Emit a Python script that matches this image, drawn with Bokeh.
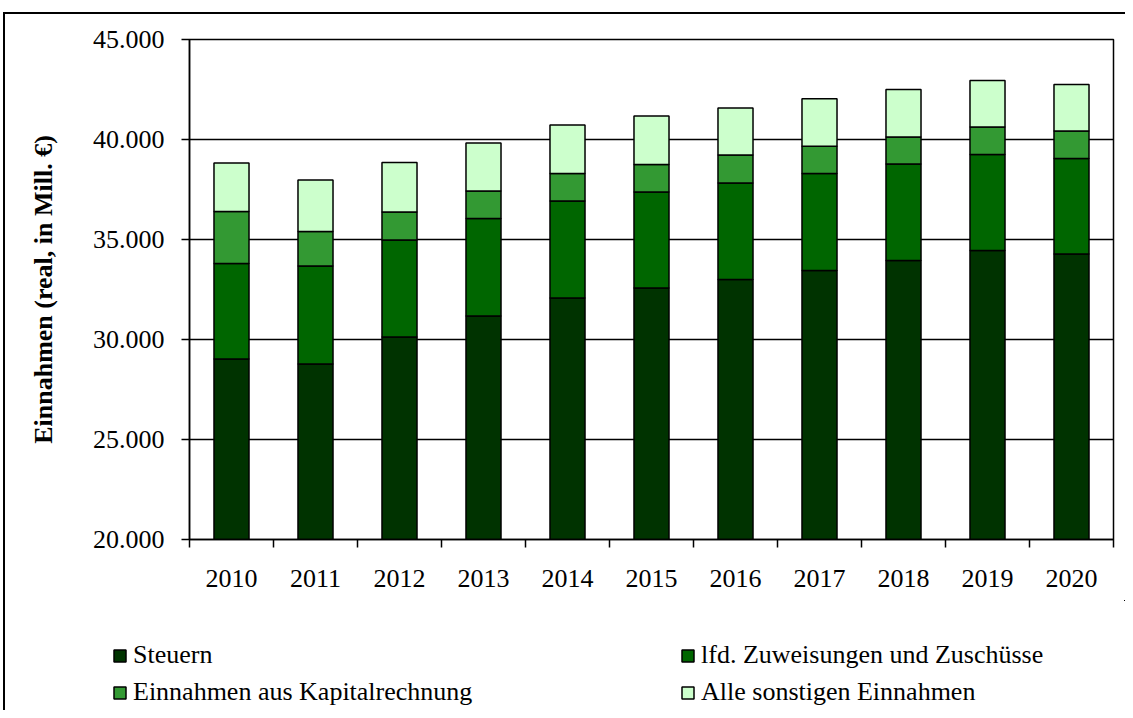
from bokeh.plotting import figure
from bokeh.models import (Range1d, FixedTicker, CustomJSTickFormatter, Legend, LegendItem,
                          ColumnDataSource)
from bokeh.embed import file_html
from bokeh.resources import INLINE

years = ["2010", "2011", "2012", "2013", "2014", "2015", "2016", "2017", "2018", "2019", "2020"]
steuern = [29020, 28770, 30120, 31180, 32070, 32570, 33000, 33450, 33950, 34450, 34280]
zuweisungen = [4780, 4900, 4850, 4870, 4850, 4810, 4830, 4850, 4820, 4800, 4770]
kapital = [2600, 1730, 1400, 1380, 1380, 1370, 1390, 1360, 1360, 1370, 1370]
sonstige = [2430, 2580, 2480, 2400, 2430, 2420, 2360, 2380, 2370, 2330, 2330]

series = ["steuern", "zuweisungen", "kapital", "sonstige"]
labels = ["Steuern", "lfd. Zuweisungen und Zuschüsse",
          "Einnahmen aus Kapitalrechnung", "Alle sonstigen Einnahmen"]
colors = ["#003300", "#006600", "#339933", "#CCFFCC"]

x = [i + 0.5 for i in range(len(years))]
source = ColumnDataSource(dict(x=x, steuern=steuern, zuweisungen=zuweisungen,
                               kapital=kapital, sonstige=sonstige))

FONT = "Liberation Serif"

p = figure(width=1125, height=600, output_backend="svg", toolbar_location=None,
           x_range=Range1d(0, len(years)), y_range=Range1d(20000, 45000),
           min_border_left=189, min_border_right=12, min_border_top=39, min_border_bottom=61)
p.background_fill_color = "white"
p.border_fill_color = "white"
p.outline_line_color = "black"
p.outline_line_width = 1.5

renderers = p.vbar_stack(series, x="x", width=0.417, source=source, color=colors,
                         line_color="black", line_width=1.5)

# axes
p.xgrid.visible = False
p.ygrid.grid_line_color = "black"
p.ygrid.grid_line_width = 1.5
p.ygrid.level = "underlay"

p.yaxis.ticker = FixedTicker(ticks=[20000, 25000, 30000, 35000, 40000, 45000])
p.yaxis.formatter = CustomJSTickFormatter(code="return (tick/1000).toFixed(3);")
p.yaxis.axis_line_color = "black"
p.yaxis.axis_line_width = 1.5
p.yaxis.major_tick_line_width = 1.5
p.yaxis.major_tick_in = 0
p.yaxis.major_tick_out = 8
p.yaxis.minor_tick_line_color = None
p.yaxis.major_label_text_font = FONT
p.yaxis.major_label_text_font_size = "26px"
p.yaxis.major_label_text_color = "black"
p.yaxis.major_label_standoff = 17
p.yaxis.axis_label = "Einnahmen (real, in Mill. €)"
p.yaxis.axis_label_text_font = FONT
p.yaxis.axis_label_text_font_size = "26px"
p.yaxis.axis_label_text_font_style = "bold"
p.yaxis.axis_label_text_color = "black"
p.yaxis.axis_label_standoff = 32

p.xaxis.ticker = FixedTicker(ticks=x, minor_ticks=list(range(len(years) + 1)))
p.xaxis.major_label_overrides = {xi: y for xi, y in zip(x, years)}
p.xaxis.axis_line_color = "black"
p.xaxis.axis_line_width = 1.5
p.xaxis.major_tick_in = 0
p.xaxis.major_tick_out = 0
p.xaxis.major_tick_line_color = None
p.xaxis.minor_tick_in = 0
p.xaxis.minor_tick_out = 8
p.xaxis.minor_tick_line_color = "black"
p.xaxis.minor_tick_line_width = 1.5
p.xaxis.major_label_text_font = FONT
p.xaxis.major_label_text_font_size = "26px"
p.xaxis.major_label_text_color = "black"
p.xaxis.major_label_standoff = 22

# legend strip below the chart (its own figure, so the legend is not clipped);
# the same series are drawn there far outside the visible x range, only to feed the legend
q = figure(width=1125, height=110, output_backend="svg", toolbar_location=None,
           x_range=Range1d(-40, -29), y_range=Range1d(-200, -90),
           min_border=0, x_axis_type=None, y_axis_type=None)
q.outline_line_color = None
q.grid.visible = False
q.background_fill_color = "white"
q.border_fill_color = "white"

swatches = [q.vbar(x="x", top=s, width=0.417, source=source, fill_color=c,
                   line_color="black", line_width=1.5)
            for s, c in zip(series, colors)]

def make_legend(idx, loc):
    lg = Legend(items=[LegendItem(label=labels[i], renderers=[swatches[i]]) for i in idx],
                location=loc, orientation="vertical")
    lg.label_text_font = FONT
    lg.label_text_font_size = "26px"
    lg.label_text_color = "black"
    lg.glyph_width = 15
    lg.glyph_height = 15
    lg.label_standoff = 6
    lg.label_height = 30
    lg.spacing = 7
    lg.padding = 0
    lg.margin = 0
    lg.border_line_color = None
    lg.background_fill_alpha = 0
    return lg

q.add_layout(make_legend([0, 2], (112, 3)), "center")
q.add_layout(make_legend([1, 3], (680, 3)), "center")

# outer chart border (left and top edges visible in the crop)
p.stylesheets = [""":host::before {
  content: ""; position: absolute; left: 3px; top: 12px;
  width: calc(100% - 3px); height: calc(100% - 12px);
  border-left: 2px solid black; border-top: 2px solid black;
  box-sizing: border-box; pointer-events: none; z-index: 10;
}"""]
q.stylesheets = [""":host::before {
  content: ""; position: absolute; left: 3px; top: 0px;
  width: calc(100% - 3px); height: 100%;
  border-left: 2px solid black;
  box-sizing: border-box; pointer-events: none; z-index: 10;
}"""]

open("out.html", "w").write(file_html([p, q], INLINE))
